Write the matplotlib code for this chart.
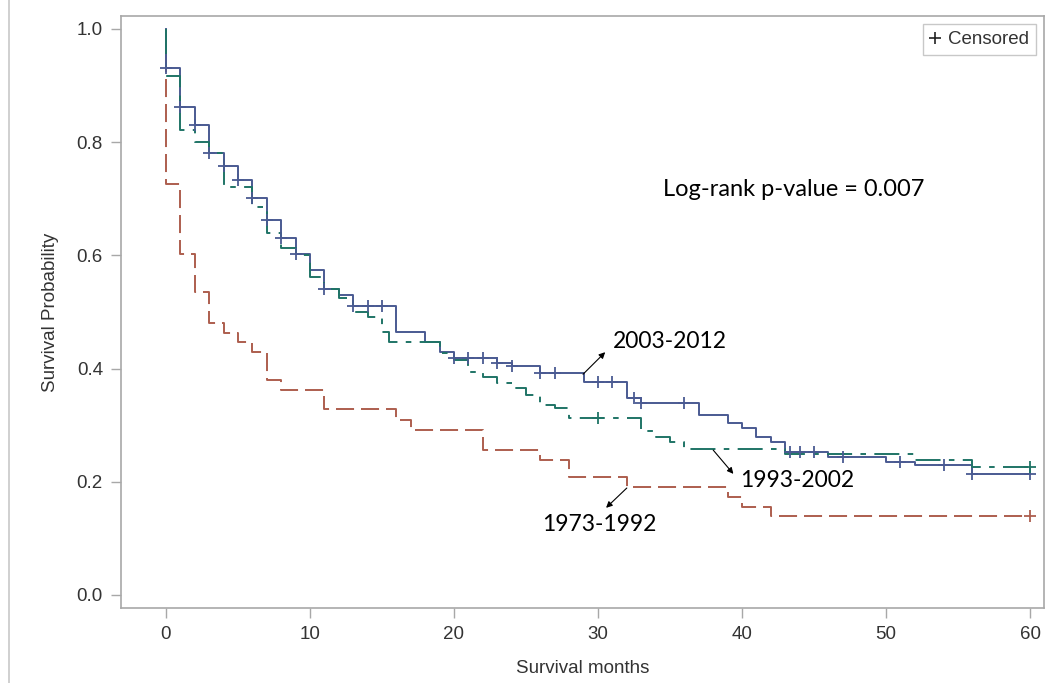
import matplotlib
matplotlib.use('Agg')
import matplotlib.pyplot as plt
from matplotlib.lines import Line2D

# Kaplan-Meier step data (months, survival probability)
t_2003 = [0, 0, 1, 2, 3, 4, 5, 6, 7, 8, 9, 10, 11, 12, 13, 16, 18, 19, 20, 23, 24,
          26, 29, 32, 33, 37, 39, 40, 41, 42, 43, 46, 50, 52, 56, 60]
s_2003 = [1.0, 0.931, 0.862, 0.830, 0.781, 0.758, 0.733, 0.701, 0.663, 0.631, 0.602,
          0.574, 0.541, 0.530, 0.510, 0.465, 0.447, 0.429, 0.419, 0.410, 0.405,
          0.392, 0.376, 0.348, 0.339, 0.318, 0.304, 0.295, 0.279, 0.270, 0.253,
          0.244, 0.235, 0.230, 0.214, 0.214]

t_1993 = [0, 0, 1, 2, 3, 4, 6, 7, 8, 9, 10, 11, 12, 13, 14, 15, 15.5, 19, 20, 21, 22,
          23, 24, 25, 26, 27, 28, 33, 34, 35, 36, 43, 52, 56, 60]
s_1993 = [1.0, 0.917, 0.822, 0.800, 0.781, 0.720, 0.686, 0.640, 0.613, 0.600, 0.562,
          0.540, 0.525, 0.500, 0.491, 0.465, 0.447, 0.428, 0.415, 0.394, 0.385,
          0.375, 0.366, 0.353, 0.336, 0.330, 0.313, 0.290, 0.279, 0.270, 0.258,
          0.249, 0.238, 0.226, 0.226]

t_1973 = [0, 0, 1, 2, 3, 4, 5, 6, 7, 8, 11, 16, 17, 22, 26, 28, 32, 39, 40, 42, 60]
s_1973 = [1.0, 0.726, 0.602, 0.535, 0.481, 0.463, 0.447, 0.429, 0.380, 0.362, 0.329,
          0.309, 0.292, 0.256, 0.239, 0.208, 0.191, 0.173, 0.155, 0.139, 0.139]

# censored observations
cens_t_2003 = [0, 1, 2, 3, 4, 5, 6, 7, 8, 9, 11, 13, 14, 15, 20, 21, 22, 23, 24,
               26, 27, 30, 31, 32.5, 33, 36, 43.3, 44, 45, 47, 51, 54, 56, 60]
cens_s_2003 = [0.931, 0.862, 0.830, 0.781, 0.758, 0.733, 0.701, 0.663, 0.631, 0.602,
               0.541, 0.510, 0.510, 0.510, 0.419, 0.419, 0.419, 0.410, 0.405,
               0.392, 0.392, 0.376, 0.376, 0.348, 0.339, 0.339, 0.253, 0.253, 0.253,
               0.244, 0.235, 0.230, 0.214, 0.214]
cens_t_1993 = [30, 60]
cens_s_1993 = [0.313, 0.226]
cens_t_1973 = [60]
cens_s_1973 = [0.139]

c_blue = '#4a5a92'
c_teal = '#1f7466'
c_red = '#ad5e4e'
grey = '#a8a8a8'
txt = '#333333'

plt.rcParams['font.family'] = 'Liberation Sans'
plt.rcParams['lines.scale_dashes'] = False

fig = plt.figure(figsize=(10.5, 6.83), dpi=100)
ax = fig.add_axes([0.1152, 0.1098, 0.8791, 0.8668])

ax.step(t_1973, s_1973, where='post', color=c_red, lw=1.4, dashes=(13, 5))
ax.step(t_2003, s_2003, where='post', color=c_blue, lw=1.4)
ax.step(t_1993, s_1993, where='post', color=c_teal, lw=1.4, dashes=(18, 6, 4, 6))

ax.plot(cens_t_2003, cens_s_2003, ls='none', marker='+', ms=9, mew=1.3, color=c_blue)
ax.plot(cens_t_1993, cens_s_1993, ls='none', marker='+', ms=9, mew=1.3, color=c_teal)
ax.plot(cens_t_1973, cens_s_1973, ls='none', marker='+', ms=9, mew=1.3, color=c_red)

ax.set_xlim(-3.125, 60.97)
ax.set_ylim(-0.023, 1.023)
ax.set_xticks([0, 10, 20, 30, 40, 50, 60])
ax.set_yticks([0.0, 0.2, 0.4, 0.6, 0.8, 1.0])
ax.set_yticklabels(['0.0', '0.2', '0.4', '0.6', '0.8', '1.0'])

for sp in ax.spines.values():
    sp.set_color(grey)
    sp.set_linewidth(1.2)
ax.tick_params(direction='out', length=7, width=1.0, color=grey,
               labelcolor=txt, labelsize=13.5, pad=6)

ax.set_xlabel('Survival months', fontsize=13.5, color=txt, labelpad=12)
ax.set_ylabel('Survival Probability', fontsize=13.5, color=txt, labelpad=13)

# legend
h = Line2D([], [], ls='none', marker='+', ms=8, mew=1.2, color='#222222')
leg = ax.legend([h], ['Censored'], loc='upper right', fontsize=13.5,
                handlelength=0.6, handletextpad=0.4, borderpad=0.35,
                borderaxespad=0.45, fancybox=False, framealpha=1)
leg.get_frame().set_edgecolor('#c8c8c8')
leg.get_frame().set_linewidth(1.0)
for t in leg.get_texts():
    t.set_color(txt)

# annotations
afont = 'Lato'
ax.text(34.5, 0.716, 'Log-rank p-value = 0.007', fontsize=17, family=afont,
        va='center', ha='left', color='black')

arrow = dict(arrowstyle='-|>', color='black', lw=0.8, mutation_scale=9,
             shrinkA=0, shrinkB=0)
ax.annotate('', xy=(30.5, 0.429), xytext=(28.96, 0.390), arrowprops=arrow)
ax.text(31.0, 0.447, '2003-2012', fontsize=16.5, family=afont, va='center', ha='left')

ax.annotate('', xy=(39.4, 0.214), xytext=(38.0, 0.256), arrowprops=arrow)
ax.text(39.9, 0.203, '1993-2002', fontsize=16.5, family=afont, va='center', ha='left')

ax.annotate('', xy=(30.56, 0.154), xytext=(32.0, 0.189), arrowprops=arrow)
ax.text(30.1, 0.125, '1973-1992', fontsize=16.5, family=afont, va='center', ha='center')

# thin border on the left of the image
fig.add_artist(Line2D([0.0085, 0.0085], [0, 1], transform=fig.transFigure,
                      color='#c8c8c8', lw=1.2))

fig.savefig('out.png', dpi=100, facecolor='white')
